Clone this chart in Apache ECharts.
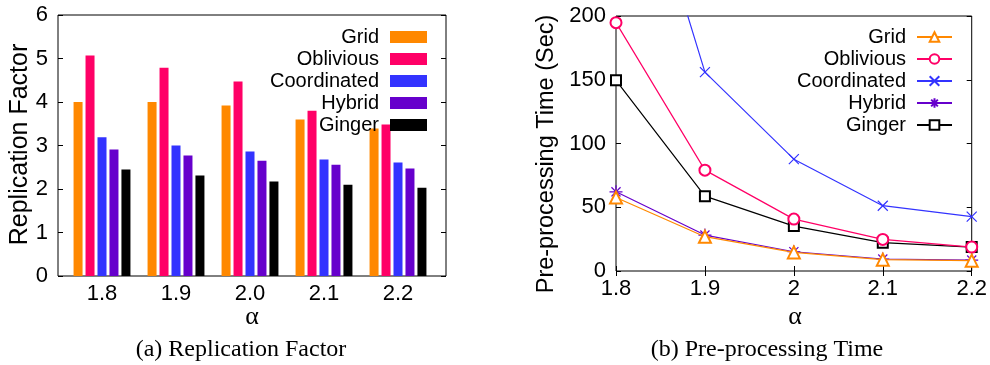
<!DOCTYPE html>
<html>
<head>
<meta charset="utf-8">
<script src="https://cdn.jsdelivr.net/npm/echarts@6/dist/echarts.min.js"></script>
<style>
html,body{margin:0;padding:0;background:#fff;}
#left{position:absolute;left:0;top:0;width:495px;height:365px;}
#right{position:absolute;left:495px;top:0;width:495px;height:365px;}
</style>
</head>
<body>
<div id="left"></div>
<div id="right"></div>
<script>
// ---- Data: (a) Replication Factor ----
const categories = ['1.8', '1.9', '2.0', '2.1', '2.2'];
const gridRF = [4.0, 4.0, 3.92, 3.6, 3.39];
const obliviousRF = [5.07, 4.79, 4.47, 3.8, 3.48];
const coordinatedRF = [3.19, 3.0, 2.86, 2.68, 2.61];
const hybridRF = [2.91, 2.77, 2.65, 2.56, 2.47];
const gingerRF = [2.45, 2.31, 2.17, 2.1, 2.03];

// ---- Data: (b) Pre-processing Time ----
const alphaValues = [1.8, 1.9, 2.0, 2.1, 2.2];
const gridPT = [57.7, 26.9, 14.6, 8.9, 8.1];
const obliviousPT = [194.8, 79.1, 40.7, 24.8, 18.8];
const coordinatedPT = [384, 156, 87.7, 51.2, 42.6];
const hybridPT = [62.1, 28.2, 15.1, 9.4, 8.6];
const gingerPT = [149.6, 58.7, 35.2, 22.2, 18.8];

const seriesNames = ['Grid', 'Oblivious', 'Coordinated', 'Hybrid', 'Ginger'];
const colors = ['#ff8800', '#ff0066', '#3333ff', '#6600cc', '#000000'];

const SANS = '"Liberation Sans", Arial, sans-serif';
const SERIF = '"Liberation Serif", "Times New Roman", serif';

function pairs(xs, ys) { return xs.map((x, i) => [x, ys[i]]); }

// ---------- Left chart ----------
const left = echarts.init(document.getElementById('left'), null, {renderer: 'canvas'});
const rfData = [gridRF, obliviousRF, coordinatedRF, hybridRF, gingerRF];
left.setOption({
  animation: false,
  grid: [
    {left: 65, top: 15, width: 370, height: 261},
    {left: 58, top: 15, width: 388, height: 261, show: true, borderColor: '#000', borderWidth: 1, backgroundColor: 'transparent'}
  ],
  legend: {
    orient: 'vertical', right: 63, top: 22, align: 'right',
    itemWidth: 37, itemHeight: 12, itemGap: 2, icon: 'rect',
    textStyle: {fontSize: 20, fontFamily: SANS, color: '#000', lineHeight: 20, padding: [0, 6, 0, 0]},
    data: seriesNames
  },
  xAxis: [
    {type: 'category', gridIndex: 0, data: categories,
     axisLine: {show: false}, axisTick: {show: false},
     axisLabel: {fontSize: 22, fontFamily: SANS, color: '#000', margin: 7}},
    {type: 'value', gridIndex: 1, show: false, min: 0, max: 1}
  ],
  yAxis: [
    {type: 'value', gridIndex: 0, min: 0, max: 6, show: false},
    {type: 'value', gridIndex: 1, min: 0, max: 6, interval: 1,
     axisLine: {show: false}, splitLine: {show: false},
     axisTick: {inside: true, length: 5, lineStyle: {color: '#000'}},
     axisLabel: {fontSize: 22, fontFamily: SANS, color: '#000', margin: 10}},
    {type: 'value', gridIndex: 1, position: 'right', min: 0, max: 6, interval: 1,
     axisLine: {show: false}, splitLine: {show: false}, axisLabel: {show: false},
     axisTick: {inside: true, length: 5, lineStyle: {color: '#000'}}}
  ],
  series: seriesNames.map((n, i) => ({
    name: n, type: 'bar', xAxisIndex: 0, yAxisIndex: 0,
    data: rfData[i], barWidth: 9, barGap: '33%',
    itemStyle: {color: colors[i]}
  })),
  graphic: [
    {type: 'text', x: 20, y: 144.5, rotation: Math.PI / 2,
     style: {text: 'Replication Factor', fontSize: 25, fontFamily: SANS, fill: '#000', align: 'center', verticalAlign: 'middle'}},
    {type: 'text', x: 252, y: 317,
     style: {text: 'α', fontSize: 26, fontFamily: SERIF, fill: '#000', align: 'center', verticalAlign: 'middle'}},
    {type: 'text', x: 241, y: 350,
     style: {text: '(a) Replication Factor', fontSize: 24, fontFamily: SERIF, fill: '#000', align: 'center', verticalAlign: 'middle'}}
  ]
});

// ---------- Right chart ----------
const right = echarts.init(document.getElementById('right'), null, {renderer: 'canvas'});
const ptData = [gridPT, obliviousPT, coordinatedPT, hybridPT, gingerPT];
const symbols = [
  'emptyTriangle',
  'emptyCircle',
  'path://M0,0L10,10M10,0L0,10',
  'path://M5,0L5,10M0,5L10,5M1.5,1.5L8.5,8.5M8.5,1.5L1.5,8.5',
  'emptyRect'
];
const symbolSizes = [12, 11, 10, 13, 10];
const fmt = v => String(Math.round(v * 10) / 10);
right.setOption({
  animation: false,
  grid: {left: 121, top: 16, width: 357, height: 255, show: true, borderColor: '#000', borderWidth: 1, backgroundColor: 'transparent'},
  legend: {
    orient: 'vertical', right: 32, top: 22, align: 'right',
    itemWidth: 35, itemHeight: 12, itemGap: 2,
    textStyle: {fontSize: 20, fontFamily: SANS, color: '#000', lineHeight: 20, padding: [0, 6, 0, 0]},
    data: seriesNames
  },
  xAxis: [
    {type: 'value', min: 1.8, max: 2.2, interval: 0.1,
     axisLine: {show: false}, splitLine: {show: false},
     axisTick: {inside: true, length: 5, lineStyle: {color: '#000'}},
     axisLabel: {fontSize: 22, fontFamily: SANS, color: '#000', margin: 7, formatter: fmt}},
    {type: 'value', position: 'top', min: 1.8, max: 2.2, interval: 0.1,
     axisLine: {show: false}, splitLine: {show: false}, axisLabel: {show: false},
     axisTick: {inside: true, length: 5, lineStyle: {color: '#000'}}}
  ],
  yAxis: [
    {type: 'value', min: 0, max: 200, interval: 50,
     axisLine: {show: false}, splitLine: {show: false},
     axisTick: {inside: true, length: 5, lineStyle: {color: '#000'}},
     axisLabel: {fontSize: 22, fontFamily: SANS, color: '#000', margin: 10}},
    {type: 'value', position: 'right', min: 0, max: 200, interval: 50,
     axisLine: {show: false}, splitLine: {show: false}, axisLabel: {show: false},
     axisTick: {inside: true, length: 5, lineStyle: {color: '#000'}}}
  ],
  series: seriesNames.map((n, i) => ({
    name: n, type: 'line', xAxisIndex: 0, yAxisIndex: 0,
    data: pairs(alphaValues, ptData[i]), clip: true,
    symbol: symbols[i], symbolSize: symbolSizes[i], showAllSymbol: true,
    lineStyle: {color: colors[i], width: 1.2},
    itemStyle: {color: colors[i], borderColor: colors[i], borderWidth: 1.2},
    z: 10 - i
  })),
  graphic: [
    {type: 'text', x: 51.5, y: 154, rotation: Math.PI / 2,
     style: {text: 'Pre-processing Time (Sec)', fontSize: 23.5, fontFamily: SANS, fill: '#000', align: 'center', verticalAlign: 'middle'}},
    {type: 'text', x: 300, y: 317,
     style: {text: 'α', fontSize: 26, fontFamily: SERIF, fill: '#000', align: 'center', verticalAlign: 'middle'}},
    {type: 'text', x: 272, y: 350,
     style: {text: '(b) Pre-processing Time', fontSize: 24, fontFamily: SERIF, fill: '#000', align: 'center', verticalAlign: 'middle'}}
  ]
});
</script>
</body>
</html>
